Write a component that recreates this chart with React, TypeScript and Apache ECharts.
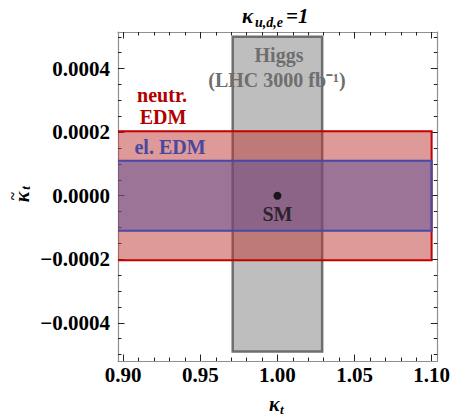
import React, { useEffect, useRef } from "react";
import * as echarts from "echarts";

// Axis ranges (plot range as read from the frame)
const X_MIN = 0.8966;
const X_MAX = 1.1037;
const Y_MIN = -0.00052;
const Y_MAX = 0.000515;

// Tick positions
const X_MAJOR = [0.9, 0.95, 1.0, 1.05, 1.1];
const X_MINOR = [
  0.9, 0.91, 0.92, 0.93, 0.94, 0.95, 0.96, 0.97, 0.98, 0.99, 1.0,
  1.01, 1.02, 1.03, 1.04, 1.05, 1.06, 1.07, 1.08, 1.09, 1.1,
];
const Y_MAJOR = [-0.0004, -0.0002, 0, 0.0002, 0.0004];
const Y_MINOR = [
  -0.0005, -0.00045, -0.0004, -0.00035, -0.0003, -0.00025, -0.0002, -0.00015,
  -0.0001, -0.00005, 0, 0.00005, 0.0001, 0.00015, 0.0002, 0.00025, 0.0003,
  0.00035, 0.0004, 0.00045, 0.0005,
];

// Regions: [xFrom, xTo, yFrom, yTo]
const HIGGS_REGION = [0.971, 1.029, -0.00049, 0.0005];
const NEUTRON_EDM_REGION = [0.85, 1.1, -0.000203, 0.000203];
const ELECTRON_EDM_REGION = [0.85, 1.1, -0.00011, 0.00011];
const SM_POINT = [1.0, 0.0];

const SERIF = "'Liberation Serif', 'Times New Roman', serif";
const TICK_COLOR = "#222";
const FRAME_COLOR = "#8f8f8f";

function regionSeries(region: number[], fill: string, stroke: string, lw: number) {
  return {
    type: "custom",
    silent: true,
    encode: { x: [0, 1], y: [2, 3] },
    data: [region],
    renderItem: (params: any, api: any) => {
      const x0 = api.value(0);
      const x1 = api.value(1);
      const y0 = api.value(2);
      const y1 = api.value(3);
      const tl = api.coord([x0, y1]);
      const br = api.coord([x1, y0]);
      const cs = params.coordSys;
      const clipped = tl[0] < cs.x;
      const left = Math.max(tl[0], cs.x);
      const top = tl[1];
      const bottom = br[1];
      const right = br[0];
      const children: any[] = [
        {
          type: "rect",
          shape: { x: left, y: top, width: right - left, height: bottom - top },
          style: { fill, stroke: clipped ? "none" : stroke, lineWidth: lw },
        },
      ];
      if (clipped) {
        children.push({
          type: "polyline",
          shape: {
            points: [
              [left, top],
              [right, top],
              [right, bottom],
              [left, bottom],
            ],
          },
          style: { fill: "none", stroke, lineWidth: lw },
        });
      }
      return { type: "group", children };
    },
  };
}

function xAxisDef(position: string, ticks: number[], len: number, labels: boolean, line: boolean) {
  return {
    type: "value",
    position,
    min: X_MIN,
    max: X_MAX,
    splitLine: { show: false },
    axisLine: { show: line, onZero: false, lineStyle: { color: FRAME_COLOR, width: 1.2 } },
    axisTick: {
      show: true,
      inside: true,
      length: len,
      customValues: ticks,
      lineStyle: { color: TICK_COLOR, width: 1 },
    },
    axisLabel: labels
      ? {
          show: true,
          customValues: X_MAJOR,
          margin: 3,
          color: "#000",
          fontFamily: SERIF,
          fontWeight: "bold",
          fontSize: 21,
          formatter: (v: number) => v.toFixed(2),
        }
      : { show: false },
  };
}

function yAxisDef(position: string, ticks: number[], len: number, labels: boolean, line: boolean) {
  return {
    type: "value",
    position,
    min: Y_MIN,
    max: Y_MAX,
    splitLine: { show: false },
    axisLine: { show: line, onZero: false, lineStyle: { color: FRAME_COLOR, width: 1.2 } },
    axisTick: {
      show: true,
      inside: true,
      length: len,
      customValues: ticks,
      lineStyle: { color: TICK_COLOR, width: 1 },
    },
    axisLabel: labels
      ? {
          show: true,
          customValues: Y_MAJOR,
          margin: 8,
          color: "#000",
          fontFamily: SERIF,
          fontWeight: "bold",
          fontSize: 21,
          formatter: (v: number) => {
            const s = Math.abs(v) < 1e-12 ? "0.0000" : v.toFixed(4);
            return s.replace("-", "\u2212");
          },
        }
      : { show: false },
  };
}

function txt(x: number, y: number, text: string, font: string, fill: string, align = "center", vAlign = "middle") {
  return {
    type: "text",
    x,
    y,
    z: 100,
    silent: true,
    style: {
      text,
      font,
      fill,
      align,
      verticalAlign: vAlign,
      textAlign: align,
      textVerticalAlign: vAlign,
    },
  };
}

export default function App() {
  const ref = useRef<HTMLDivElement>(null);

  useEffect(() => {
    if (!ref.current) return;
    const chart = echarts.init(ref.current, null, { renderer: "svg" });

    const boldLabel = `bold 20px ${SERIF}`;

    chart.setOption({
      animation: false,
      backgroundColor: "#fff",
      grid: { left: 118, right: 14, top: 32, bottom: 55, containLabel: false },
      xAxis: [
        xAxisDef("bottom", X_MINOR, 3.5, true, true),
        xAxisDef("bottom", X_MAJOR, 6.5, false, false),
        xAxisDef("top", X_MINOR, 3.5, false, true),
        xAxisDef("top", X_MAJOR, 6.5, false, false),
      ],
      yAxis: [
        yAxisDef("left", Y_MINOR, 3.5, true, true),
        yAxisDef("left", Y_MAJOR, 6.5, false, false),
        yAxisDef("right", Y_MINOR, 3.5, false, true),
        yAxisDef("right", Y_MAJOR, 6.5, false, false),
      ],
      series: [
        regionSeries(HIGGS_REGION, "#bebebe", "#6e6e6e", 2.5),
        regionSeries(NEUTRON_EDM_REGION, "rgba(190,51,51,0.5)", "#c40000", 2),
        regionSeries(ELECTRON_EDM_REGION, "rgba(88,80,152,0.5)", "#4848a8", 2),
        {
          type: "scatter",
          data: [SM_POINT],
          symbolSize: 8,
          itemStyle: { color: "#000" },
          silent: true,
          label: {
            show: true,
            position: "bottom",
            distance: 4,
            formatter: "SM",
            color: "#111",
            fontFamily: SERIF,
            fontWeight: "bold",
            fontSize: 20,
          },
        },
      ],
      graphic: [
        // title  κ_{u,d,e}=1
        txt(242, 16, "\u03ba", `italic bold 21px ${SERIF}`, "#000", "left"),
        txt(255, 22, "u,d,e", `italic bold 14px ${SERIF}`, "#000", "left"),
        txt(286, 16, "=1", `italic bold 21px ${SERIF}`, "#000", "left"),
        // x axis name κ_t
        txt(269, 404, "\u03ba", `italic bold 20px ${SERIF}`, "#000", "left"),
        txt(280, 409, "t", `italic bold 13px ${SERIF}`, "#000", "left"),
        // y axis name κ̃_t (rotated, reads bottom to top)
        {
          type: "group",
          x: 22,
          y: 197,
          rotation: Math.PI / 2,
          z: 100,
          children: [
            txt(0, 0, "\u03ba", `italic bold 20px ${SERIF}`, "#000", "center"),
            txt(1, -9, "~", `bold 15px ${SERIF}`, "#000", "center"),
            txt(9, 3, "t", `italic bold 13px ${SERIF}`, "#000", "center"),
          ],
        },
        // region labels
        txt(279, 55, "Higgs", boldLabel, "#6e6e6e"),
        txt(277, 80, "(LHC 3000 fb\u207b\u00b9)", boldLabel, "#6e6e6e"),
        txt(162, 95, "neutr.", boldLabel, "#b00000"),
        txt(163, 117, "EDM", boldLabel, "#b00000"),
        txt(170, 147, "el. EDM", boldLabel, "#4848a0"),
      ],
    });

    return () => chart.dispose();
  }, []);

  return (
    <div
      ref={ref}
      style={{ position: "absolute", left: 0, top: 0, width: 453, height: 416 }}
    />
  );
}
